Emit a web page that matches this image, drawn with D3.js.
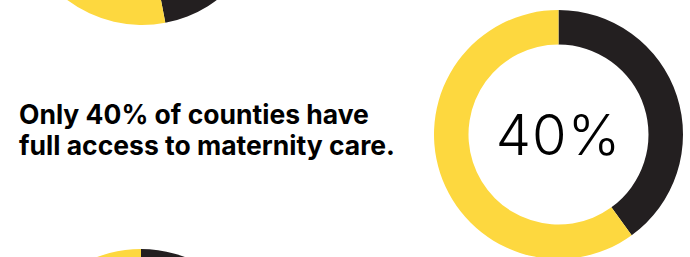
<!DOCTYPE html>
<html>
<head>
<meta charset="utf-8">
<script src="https://cdn.jsdelivr.net/npm/d3@7"></script>
<style>
  html, body { margin: 0; padding: 0; background: #fff; }
  svg { display: block; }
</style>
</head>
<body>
<div id="chart"></div>
<script>
const width = 690;
const height = 257;

// share of counties with full access (black slice), per donut
const donutNames = ["previous", "current", "next"];
const fullAccess = [47, 40, 35];
const headline = ["Only 40% of counties have", "full access to maternity care."];
const centerLabel = "40%";

const colors = {full: "#231f20", rest: "#fdd83f"};

const svg = d3.select("#chart")
  .append("svg")
  .attr("width", width)
  .attr("height", height);

const outerR = 124.5;
const innerR = 90;

// donut centres on the page (the other two are cut off by the frame)
const centers = [
  {x: 142, y: -99.5},
  {x: 558.5, y: 134.5},
  {x: 141, y: 373.5}
];

const pie = d3.pie().sort(null).value(d => d.v);
const arc = d3.arc().innerRadius(innerR).outerRadius(outerR);

donutNames.forEach((name, i) => {
  const g = svg.append("g")
    .attr("class", "donut " + name)
    .attr("transform", `translate(${centers[i].x},${centers[i].y})`);

  const slices = pie([
    {k: "full", v: fullAccess[i]},
    {k: "rest", v: 100 - fullAccess[i]}
  ]);

  g.selectAll("path")
    .data(slices)
    .enter().append("path")
      .attr("d", arc)
      .attr("fill", d => colors[d.data.k]);
});

svg.append("text")
  .attr("x", centers[1].x)
  .attr("y", 155)
  .attr("text-anchor", "middle")
  .attr("font-family", "Inter, sans-serif")
  .attr("font-weight", 300)
  .attr("font-size", "56px")
  .attr("letter-spacing", "1px")
  .attr("fill", "#000")
  .text(centerLabel);

svg.append("text")
  .attr("x", 19)
  .attr("y", 124)
  .attr("font-family", "Inter, sans-serif")
  .attr("font-weight", 700)
  .attr("font-size", "26.5px")
  .attr("fill", "#000")
  .selectAll("tspan")
  .data(headline)
  .enter().append("tspan")
    .attr("x", 19)
    .attr("dy", (d, i) => i === 0 ? 0 : 31)
    .text(d => d);
</script>
</body>
</html>
